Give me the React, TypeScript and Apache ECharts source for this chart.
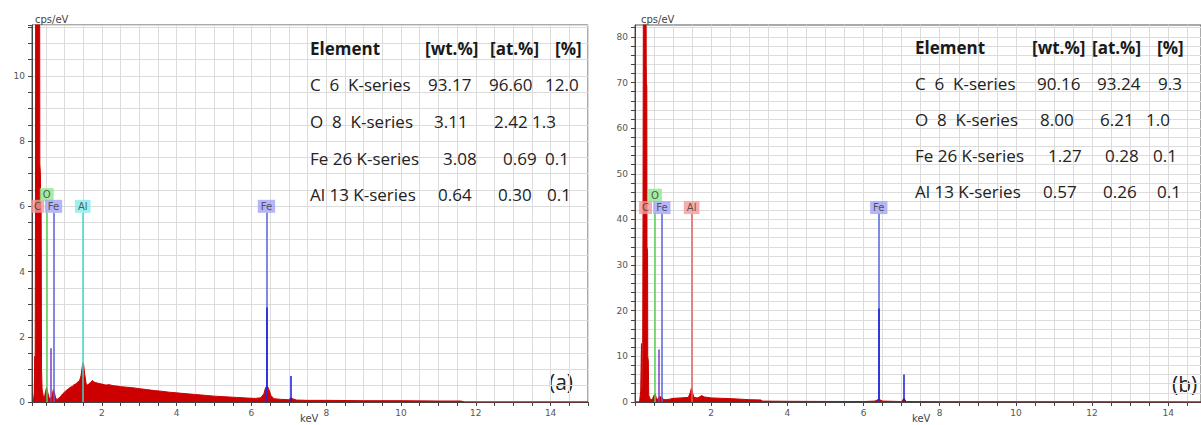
import React, { useEffect, useRef } from "react";
import * as echarts from "echarts";

// ---------- Spectrum (a) ----------
const keVA = [
  0.13, 0.17, 0.19, 0.205, 0.213, 0.222, 0.228, 0.335, 0.34, 0.355, 0.36, 0.375, 0.385, 0.4, 0.43, 0.46,
  0.48, 0.52, 0.55, 0.58, 0.62, 0.66, 0.7, 0.73, 0.76, 0.8, 0.85, 0.9, 0.95, 1.0, 1.05, 1.1, 1.15, 1.2,
  1.25, 1.3, 1.35, 1.4, 1.44, 1.47, 1.49, 1.51, 1.54, 1.58, 1.62, 1.66, 1.7, 1.74, 1.78, 1.82, 1.88,
  1.95, 2.0, 2.1, 2.2, 2.3, 2.4, 2.5, 2.6, 2.8, 3.0, 3.2, 3.4, 3.6, 3.8, 4.0, 4.2, 4.5, 4.8, 5.0, 5.3,
  5.6, 5.9, 6.1, 6.25, 6.33, 6.38, 6.42, 6.46, 6.52, 6.6, 6.8, 7.0, 7.05, 7.1, 7.2, 7.5, 8.0, 9.0,
  10.0, 11.0, 11.6, 11.7, 15.0,
];
const cpsA = [
  0, 0.02, 0.3, 1.4, 0.3, 5.0, 12.5, 12.5, 7.3, 7.0, 6.2, 5.8, 1.0, 0.4, 0.2, 0.1,
  0.25, 0.45, 0.3, 0.15, 0.1, 0.15, 0.38, 0.3, 0.12, 0.08, 0.12, 0.18, 0.25, 0.3, 0.36, 0.4, 0.45, 0.47,
  0.53, 0.55, 0.61, 0.65, 0.8, 1.05, 1.2, 1.15, 0.85, 0.55, 0.52, 0.57, 0.6, 0.66, 0.62, 0.6, 0.58,
  0.56, 0.55, 0.52, 0.53, 0.5, 0.49, 0.47, 0.46, 0.44, 0.41, 0.38, 0.35, 0.33, 0.3, 0.28, 0.26, 0.23, 0.2, 0.18, 0.16,
  0.14, 0.12, 0.11, 0.13, 0.25, 0.45, 0.5, 0.4, 0.2, 0.1, 0.08, 0.07, 0.13, 0.1, 0.06, 0.05, 0.05, 0.04,
  0.04, 0.03, 0.03, 0, 0,
];

// ---------- Spectrum (b) ----------
const keVB = [
  0, 0.12, 0.15, 0.17, 0.18, 0.2, 0.21, 0.22, 0.29, 0.295, 0.3, 0.31, 0.315, 0.33, 0.335, 0.35, 0.36,
  0.4, 0.45, 0.5, 0.53, 0.56, 0.6, 0.65, 0.7, 0.75, 0.8, 0.9, 1.0, 1.2, 1.4, 1.45, 1.48, 1.51, 1.55,
  1.65, 1.75, 1.82, 2.0, 2.3, 2.6, 3.0, 3.3, 3.35, 4.0, 5.0, 6.0, 6.3, 6.4, 6.5, 7.0, 7.06, 7.12, 8.0,
  12.0, 14.86,
];
const cpsB = [
  0, 0, 2.5, 12.8, 3, 3, 40, 90, 90, 74, 70, 69, 34, 33, 10, 9, 1.5,
  0.6, 0.5, 1.5, 1.8, 0.8, 0.6, 1.2, 1.0, 0.6, 0.5, 0.6, 0.8, 0.9, 1.0, 2.0, 3.0, 2.0, 1.0,
  0.9, 1.4, 1.1, 0.9, 0.8, 0.7, 0.5, 0.45, 0.2, 0.15, 0.12, 0.1, 0.2, 0.6, 0.2, 0.1, 0.8, 0.1, 0.05,
  0.03, 0,
];

// ---------- Element markers ----------
const elementNames = ["C", "O", "Fe", "Al", "Fe"];
const elementKeV = [0.277, 0.525, 0.705, 1.487, 6.4];
const labelYA = [6.0, 6.36, 6.0, 6.0, 6.0];
const labelYB = [42.6, 45.3, 42.6, 42.6, 42.6];
const markerTopA = 5.8;
const markerTopB = 41.3;

// fitted peak spikes
const spikeKeVA = [0.64, 6.4, 7.06];
const spikeCpsA = [1.65, 2.9, 0.8];
const spikeKeVB = [0.62, 6.39, 7.06];
const spikeCpsB = [11.5, 20.5, 6.0];

// ---------- Axis labels ----------
const xLabelValues = [2, 4, 6, 8, 10, 12, 14];
const yLabelsA = [0, 2, 4, 6, 8, 10];
const yLabelsB = [0, 10, 20, 30, 40, 50, 60, 70, 80];
const yTicksB = [
  0, 2, 4, 6, 8, 10, 12, 14, 16, 18, 20, 22, 24, 26, 28, 30, 32, 34, 36, 38, 40, 42, 44, 46, 48, 50,
  52, 54, 56, 58, 60, 62, 64, 66, 68, 70, 72, 74, 76, 78, 80, 82,
];

// ---------- Tables ----------
const tableHeader = ["Element", "[wt.%]", "[at.%]", "[%]"];
const tableRowsA = [
  ["C  6  K-series", "93.17", "96.60", "12.0"],
  ["O  8  K-series", "3.11", "2.42", "1.3"],
  ["Fe 26 K-series", "3.08", "0.69", "0.1"],
  ["Al 13 K-series", "0.64", "0.30", "0.1"],
];
const tableRowsB = [
  ["C  6  K-series", "90.16", "93.24", "9.3"],
  ["O  8  K-series", "8.00", "6.21", "1.0"],
  ["Fe 26 K-series", "1.27", "0.28", "0.1"],
  ["Al 13 K-series", "0.57", "0.26", "0.1"],
];

// layout (pixel positions of table cells)
const headerXA = [310, 425, 490, 555];
const rowXA = [
  [310, 428, 489, 545],
  [310, 434, 494, 532],
  [310, 443, 503, 545],
  [310, 438, 498, 547],
];
const rowYA = [48, 84, 121, 158, 194];
const headerXB = [915, 1032, 1092, 1157];
const rowXB = [
  [915, 1037, 1097, 1158],
  [915, 1040, 1100, 1146],
  [915, 1048, 1105, 1153],
  [915, 1043, 1103, 1157],
];
const rowYB = [47, 83, 119, 155, 191];

const RED = "#cc0000";
const labelColorsA = ["#f29a9a", "#8fe88f", "#a3a3f5", "#86ecec", "#a3a3f5"];
const labelColorsB = ["#f29a9a", "#8fe88f", "#a3a3f5", "#f29a9a", "#a3a3f5"];
const lineColorsA = [RED, "#55d055", "#5563dd", "#45d6cf", "#5563dd"];
const lineColorsB = [RED, "#55d055", "#5563dd", "#e06060", "#5563dd"];
const spikeColors = ["#7a3cc8", "#1a1ad8", "#1a1ad8"];

function tableGraphics(header: string[], rows: string[][], hx: number[], rx: number[][], ry: number[]) {
  const out: any[] = [];
  header.forEach((t, i) => {
    out.push({
      type: "text",
      x: hx[i],
      y: ry[0],
      z: 10,
      style: {
        text: t,
        fill: "#1a1a1a",
        stroke: "none",
        lineWidth: 0,
        font: "bold 17px 'Open Sans'",
        textVerticalAlign: "middle",
        verticalAlign: "middle",
      },
    });
  });
  rows.forEach((row, r) => {
    row.forEach((t, i) => {
      out.push({
        type: "text",
        x: rx[r][i],
        y: ry[r + 1],
        z: 10,
        style: {
          text: t,
          fill: "#222",
          stroke: "none",
          lineWidth: 0,
          font: "17px 'Open Sans'",
          textVerticalAlign: "middle",
          verticalAlign: "middle",
        },
      });
    });
  });
  return out;
}

function smallText(text: string, x: number, y: number) {
  return {
    type: "text",
    x,
    y,
    style: {
      text,
      fill: "#444",
      stroke: "none",
      lineWidth: 0,
      font: "10px 'DejaVu Sans'",
      textVerticalAlign: "middle",
      verticalAlign: "middle",
    },
  };
}

function xAxisCfg(gridIndex: number, min: number, max: number, extra: any) {
  return {
    type: "value",
    gridIndex,
    min,
    max,
    ...extra,
    axisLine: { show: true, onZero: false, lineStyle: { color: "#444", width: 1 } },
    axisTick: { show: true, length: 4, lineStyle: { color: "#444" } },
    axisLabel: { customValues: xLabelValues, fontSize: 9, color: "#555", margin: 6, fontFamily: "DejaVu Sans" },
    splitLine: { show: true, lineStyle: { color: "#dcdcdc", width: 1 } },
  };
}

function yAxisCfg(gridIndex: number, max: number, interval: number, labels: number[], ticks?: number[]) {
  return {
    type: "value",
    gridIndex,
    min: 0,
    max,
    interval,
    axisLine: { show: true, onZero: false, lineStyle: { color: "#444", width: 1 } },
    axisTick: ticks
      ? { show: true, length: 4, customValues: ticks, lineStyle: { color: "#444" } }
      : { show: true, length: 4, lineStyle: { color: "#444" } },
    axisLabel: { customValues: labels, fontSize: 9, color: "#555", margin: 7, fontFamily: "DejaVu Sans" },
    splitLine: { show: true, lineStyle: { color: "#dcdcdc", width: 1 } },
  };
}

function spectrumSeries(
  idx: number,
  keV: number[],
  cps: number[],
  markerTop: number,
  lineColors: string[],
  spikeKeV: number[],
  spikeCps: number[]
) {
  const markerLines = elementKeV.map((k, i) => [
    { coord: [k, 0], lineStyle: { color: lineColors[i], width: 1.5, type: "solid" } },
    { coord: [k, markerTop] },
  ]);
  const spikeLines = spikeKeV.map((k, i) => [
    { coord: [k, 0], lineStyle: { color: spikeColors[i], width: 1.5, type: "solid" } },
    { coord: [k, spikeCps[i]] },
  ]);
  return {
    type: "line",
    xAxisIndex: idx,
    yAxisIndex: idx,
    data: keV.map((k, i) => [k, cps[i]]),
    symbol: "none",
    lineStyle: { color: RED, width: 1 },
    itemStyle: { color: RED },
    areaStyle: { color: RED, opacity: 1 },
    clip: true,
    z: 2,
    markLine: {
      silent: true,
      symbol: ["none", "none"],
      label: { show: false },
      animation: false,
      data: [...markerLines, ...spikeLines],
    },
  };
}

function labelSeries(idx: number, labelY: number[], colors: string[]) {
  return {
    type: "scatter",
    xAxisIndex: idx,
    yAxisIndex: idx,
    symbol: "rect",
    symbolSize: 1,
    itemStyle: { color: "rgba(0,0,0,0)" },
    z: 5,
    data: elementKeV.map((k, i) => ({
      name: elementNames[i],
      value: [k, labelY[i]],
      label: { backgroundColor: colors[i] },
    })),
    label: {
      show: true,
      position: "inside",
      formatter: "{b}",
      fontSize: 10,
      color: "#333",
      fontFamily: "DejaVu Sans",
      padding: [2, 3, 1, 3],
    },
  };
}

export default function App() {
  const ref = useRef<HTMLDivElement>(null);
  useEffect(() => {
    if (!ref.current) return;
    const chart = echarts.init(ref.current, undefined, { renderer: "svg" });
    const option: any = {
      animation: false,
      backgroundColor: "#ffffff",
      grid: [
        { left: 32, top: 25, width: 556, height: 377, show: true, borderColor: "#555", borderWidth: 1 },
        { left: 635, top: 25, width: 566, height: 377, show: true, borderColor: "#555", borderWidth: 1 },
      ],
      xAxis: [xAxisCfg(0, 0.13, 15, { splitNumber: 30 }), xAxisCfg(1, 0, 14.86, { interval: 0.5 })],
      yAxis: [yAxisCfg(0, 11.56, 0.5, yLabelsA), yAxisCfg(1, 82.6, 4, yLabelsB, yTicksB)],
      series: [
        spectrumSeries(0, keVA, cpsA, markerTopA, lineColorsA, spikeKeVA, spikeCpsA),
        spectrumSeries(1, keVB, cpsB, markerTopB, lineColorsB, spikeKeVB, spikeCpsB),
        labelSeries(0, labelYA, labelColorsA),
        labelSeries(1, labelYB, labelColorsB),
      ],
      graphic: [
        ...tableGraphics(tableHeader, tableRowsA, headerXA, rowXA, rowYA),
        ...tableGraphics(tableHeader, tableRowsB, headerXB, rowXB, rowYB),
        smallText("cps/eV", 35, 19),
        smallText("cps/eV", 641, 19),
        smallText("keV", 300, 418),
        smallText("keV", 912, 418),
        {
          type: "text",
          x: 549,
          y: 382,
          style: {
            text: "(a)",
            fill: "#222",
            stroke: "none",
            lineWidth: 0,
            font: "21px 'Open Sans'",
            textVerticalAlign: "middle",
            verticalAlign: "middle",
          },
        },
        {
          type: "text",
          x: 1172,
          y: 384,
          style: {
            text: "(b)",
            fill: "#222",
            stroke: "none",
            lineWidth: 0,
            font: "21px 'Open Sans'",
            textVerticalAlign: "middle",
            verticalAlign: "middle",
          },
        },
      ],
    };
    chart.setOption(option);
    return () => chart.dispose();
  }, []);
  return (
    <div
      ref={ref}
      style={{ position: "absolute", left: 0, top: 0, width: 1201, height: 425, background: "#fff" }}
    />
  );
}
